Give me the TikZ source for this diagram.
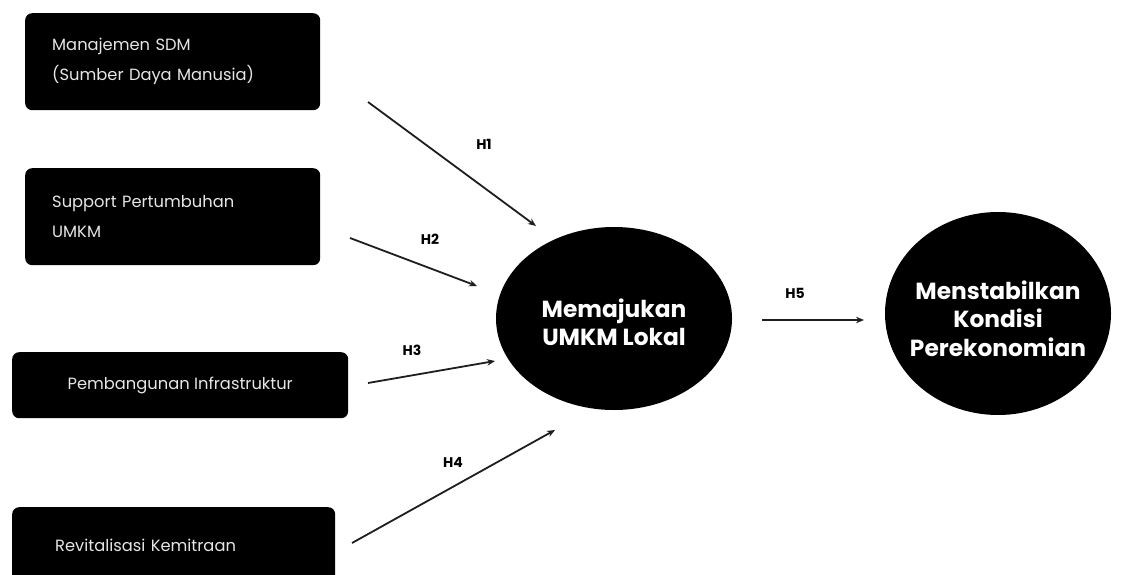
\documentclass[tikz,border=0pt]{standalone}
\usepackage{fontspec}
\setmainfont{Poppins}
\usetikzlibrary{arrows.meta,shapes.geometric}
\definecolor{boxtext}{HTML}{E6E6E6}
\definecolor{arrowc}{HTML}{1E1E1E}
\begin{document}
\begin{tikzpicture}[x=1pt,y=-1pt,
  box/.style={fill=black, rounded corners=7pt, text=boxtext, inner ysep=0pt,
    font=\fontsize{16.3}{30}\selectfont},
  oval/.style={ellipse, fill=black, text=white, align=center, inner sep=0pt,
    font=\bfseries\fontsize{23.3}{28.5}\selectfont},
  hyp/.style={font=\bfseries\fontsize{14}{16}\selectfont, text=black},
  link/.style={draw=arrowc, line width=1.8pt, -{Stealth[length=8pt,width=6.5pt]}}]
\clip (0,0) rectangle (1121,575);
\fill[white] (0,0) rectangle (1121,575);
% boxes
\node[box, anchor=north west, minimum width=295pt, minimum height=97pt,
  text width=241pt, align=left, inner xsep=27pt] (b1) at (25,13)
  {Manajemen SDM\\(Sumber Daya Manusia)};
\node[box, anchor=north west, minimum width=295pt, minimum height=97pt,
  text width=241pt, align=left, inner xsep=27pt] (b2) at (25,168)
  {Support Pertumbuhan\\UMKM};
\node[box, anchor=north west, minimum width=336pt, minimum height=66pt,
  align=center] (b3) at (12,352)
  {Pembangunan Infrastruktur};
\node[box, anchor=north west, minimum width=323pt, minimum height=76pt,
  text width=237pt, align=left, inner xsep=43pt] (b4) at (12,507)
  {Revitalisasi Kemitraan};
% ovals
\node[oval, minimum width=236pt, minimum height=183pt] (e1) at (614,318.5) {};
\node[oval, fill=none, yshift=-4pt] (e1t) at (e1.center)
  {Memajukan\\UMKM Lokal};
\node[oval, minimum width=226pt, minimum height=203pt] (e2) at (998,313.5) {};
\node[oval, fill=none, yshift=-5pt] (e2t) at (e2.center)
  {Menstabilkan\\Kondisi\\Perekonomian};
% arrow end points
\coordinate (s1) at (368,102); \coordinate (t1) at (536,226);
\coordinate (s2) at (350,238); \coordinate (t2) at (477,286);
\coordinate (s3) at (368,383); \coordinate (t3) at (495,361);
\coordinate (s4) at (352,543); \coordinate (t4) at (555,430);
\coordinate (s5) at (762,320); \coordinate (t5) at (864,320);
\draw[link] (s1) -- (t1);
\draw[link] (s2) -- (t2);
\draw[link] (s3) -- (t3);
\draw[link] (s4) -- (t4);
\draw[link] (s5) -- (t5);
% labels
\node[hyp] (h1) at (484,144) {H1};
\node[hyp] (h2) at (430,239) {H2};
\node[hyp] (h3) at (412,350) {H3};
\node[hyp] (h4) at (453,462) {H4};
\node[hyp] (h5) at (795,293) {H5};
\end{tikzpicture}
\end{document}
